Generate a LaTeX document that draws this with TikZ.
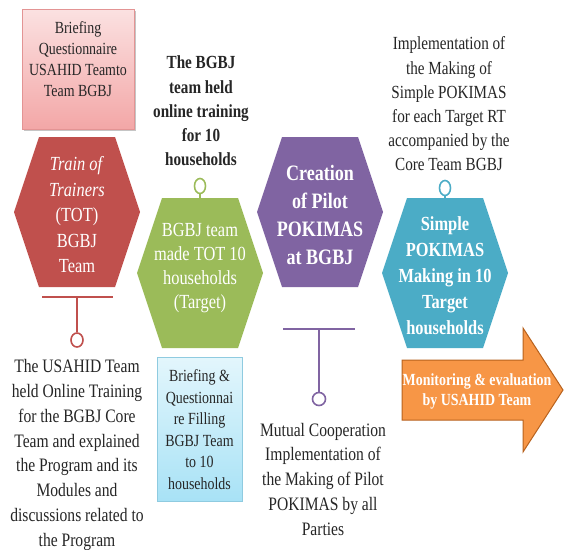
\documentclass[tikz,border=0pt]{standalone}
\usepackage{fontspec}
\setmainfont{Liberation Serif}[FakeStretch=0.82]
\usetikzlibrary{shadows,shapes.geometric}
\definecolor{hred}{HTML}{C0504D}
\definecolor{hgreen}{HTML}{9BBB59}
\definecolor{hpurple}{HTML}{8064A2}
\definecolor{hblue}{HTML}{4BACC6}
\definecolor{horange}{HTML}{F79646}
\definecolor{horangedk}{HTML}{B8621E}
\definecolor{pinktop}{HTML}{FBE1E1}
\definecolor{pinkbot}{HTML}{F3A7A7}
\definecolor{pinkbd}{HTML}{E39494}
\definecolor{cyantop}{HTML}{E3F6FC}
\definecolor{cyanbot}{HTML}{A8E2F6}
\definecolor{cyanbd}{HTML}{8FCBE0}
\definecolor{txtdark}{HTML}{262626}
\newcommand{\hexshape}[2]{++(-63,0) -- ++(25,-75) -- ++(76,0) -- ++(25,75) -- ++(-25,75) -- ++(-76,0) -- cycle}
\begin{document}
\begin{tikzpicture}[x=1pt,y=-1pt,
  txt/.style={align=center, inner sep=0pt, text=txtdark},
  hextxt/.style={align=center, inner sep=0pt, text=white},
  hexfill/.style={fill=#1, draw=none},
  stem/.style={draw=#1, line width=2pt},
  ring/.style={ellipse, draw=#1, fill=white, line width=1.6pt, inner sep=0pt, minimum width=12pt, minimum height=14pt},
  boxpink/.style={draw=pinkbd, line width=0.8pt, top color=pinktop, bottom color=pinkbot},
  boxcyan/.style={draw=cyanbd, line width=0.8pt, top color=cyantop, bottom color=cyanbot},
]
\useasboundingbox (0,0) rectangle (564,549);
\fill[white] (0,0) rectangle (564,549);

% ---------- boxes ----------
\path[boxpink, drop shadow={shadow xshift=1.5pt, shadow yshift=-2pt, opacity=0.45}] (22,9) rectangle (134,129);
\node[txt, font=\fontsize{17}{21}\selectfont] (pinktxt) at (78,59) {Briefing\\Questionnaire\\USAHID Teamto\\Team BGBJ};

\path[boxcyan] (157,357) rectangle (242,501);
\node[txt, font=\fontsize{17}{21.6}\selectfont] (cyantxt) at (199.5,429.5) {Briefing \&\\Questionnai\\re Filling\\BGBJ Team\\to 10\\households};

% ---------- hexagons ----------
\coordinate (hR) at (77,212);
\coordinate (hG) at (200,273);
\coordinate (hP) at (320,212);
\coordinate (hB) at (445,273);
\path[hexfill=hred] (hR) \hexshape{}{};
\path[hexfill=hgreen] (hG) \hexshape{}{};
\path[hexfill=hpurple] (hP) \hexshape{}{};
\path[hexfill=hblue] (hB) \hexshape{}{};

\node[hextxt, font=\fontsize{20}{25.5}\selectfont] (redtxt) at (77,215) {\textit{Train of}\\\textit{Trainers}\\(TOT)\\BGBJ\\Team};
\node[hextxt, font=\fontsize{20}{24.3}\selectfont] (greentxt) at (200,268) {BGBJ team\\made TOT 10\\households\\(Target)};
\node[hextxt, font=\bfseries\fontsize{22}{27.7}\selectfont] (purpletxt) at (320,215) {Creation\\of Pilot\\POKIMAS\\at BGBJ};
\node[hextxt, font=\bfseries\fontsize{20}{26}\selectfont] (bluetxt) at (445,276) {Simple\\POKIMAS\\Making in 10\\Target\\households};

% ---------- stems and rings ----------
\coordinate (rbL) at (42,297);
\coordinate (rbR) at (113,297);
\coordinate (rbM) at (77,297);
\node[ring=hred] (rring) at (77,340) {};
\draw[stem=hred] (rbL) -- (rbR);
\draw[stem=hred] (rbM) -- (rring.north);

\coordinate (pbL) at (283,329);
\coordinate (pbR) at (355,329);
\coordinate (pbM) at (319,329);
\node[ring=hpurple, minimum width=13pt, minimum height=13pt] (pring) at (319,399) {};
\draw[stem=hpurple] (pbL) -- (pbR);
\draw[stem=hpurple] (pbM) -- (pring.north);

\coordinate (gtop) at (200,198);
\node[ring=hgreen, minimum width=11pt, minimum height=15pt] (gring) at (200,186) {};
\draw[stem=hgreen, line width=1.6pt] (gring.south) -- (gtop);

\coordinate (btop) at (445,198);
\node[ring=hblue, minimum width=11pt, minimum height=15pt] (bring) at (445,188) {};
\draw[stem=hblue, line width=1.6pt] (bring.south) -- (btop);

% ---------- arrow ----------
\path[fill=horange, draw=horangedk, line width=1pt] (402,360) -- (523,360) -- (523,328) -- (563,390) -- (523,452) -- (523,420) -- (402,420) -- cycle;
\node[hextxt, font=\bfseries\fontsize{17}{20}\selectfont] (arrowtxt) at (477,391) {Monitoring \& evaluation\\by USAHID Team};

% ---------- free texts ----------
\node[txt, font=\bfseries\fontsize{18.5}{24.3}\selectfont] (bgbjtxt) at (201,111) {The BGBJ\\team held\\online training\\for 10\\households};
\node[txt, font=\fontsize{18.5}{24.2}\selectfont] (impltxt) at (449,104) {Implementation of\\the Making of\\Simple POKIMAS\\for each Target RT\\accompanied by the\\Core Team BGBJ};
\node[txt, font=\fontsize{19}{24.8}\selectfont] (usahidtxt) at (77,455) {The USAHID Team\\held Online Training\\for the BGBJ Core\\Team and explained\\the Program and its\\Modules and\\discussions related to\\the Program};
\node[txt, font=\fontsize{19}{24.75}\selectfont] (mutualtxt) at (323,479) {Mutual Cooperation\\Implementation of\\the Making of Pilot\\POKIMAS by all\\Parties};
\end{tikzpicture}
\end{document}
